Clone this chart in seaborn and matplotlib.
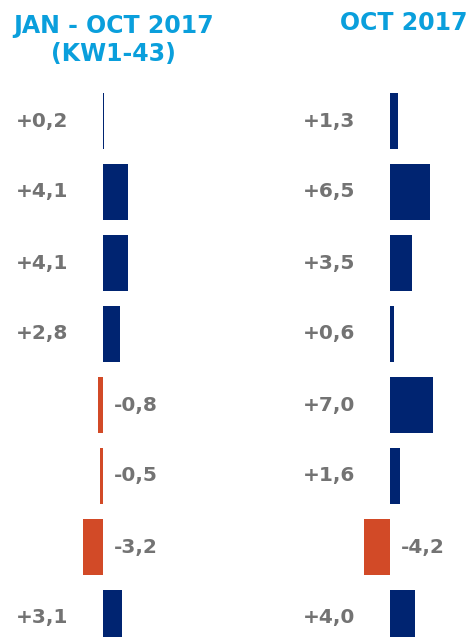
import numpy as np
import pandas as pd
import matplotlib.pyplot as plt
import seaborn as sns

# values
jan_oct = [0.2, 4.1, 4.1, 2.8, -0.8, -0.5, -3.2, 3.1]
oct_only = [1.3, 6.5, 3.5, 0.6, 7.0, 1.6, -4.2, 4.0]
rows = ["r{0}".format(i) for i in range(len(jan_oct))]

titles = ["JAN - OCT 2017\n(KW1-43)", "OCT 2017"]

navy = "#002471"
red = "#d24a27"
grey = "#737373"
blue = "#0a9fdc"

sns.set_theme(style="white")
plt.rcParams['font.family'] = ['DejaVu Sans']

fig = plt.figure(figsize=(4.70, 6.37), dpi=100)
ax1 = fig.add_axes([0.0, 0.0, 0.5, 1.0])
ax2 = fig.add_axes([0.5, 0.0, 0.5, 1.0])

px_per_unit = 6.2
row_px = 71.0
first_row_px = 121.0

# zero line position (in pixels from the left edge of each axes)
zeros = [103.0, 155.0]

for ax, vals, zero in [(ax1, jan_oct, zeros[0]), (ax2, oct_only, zeros[1])]:
    df = pd.DataFrame({"row": rows, "val": vals})
    pal = {r: (navy if v >= 0 else red) for r, v in zip(rows, vals)}
    sns.barplot(data=df, x="val", y="row", hue="row", palette=pal, orient="h",
                width=0.775, legend=False, ax=ax, saturation=1, linewidth=0)
    ax.set_xlim(-zero / px_per_unit, (235.0 - zero) / px_per_unit)
    ax.set_ylim((637.0 - first_row_px) / row_px, -first_row_px / row_px)
    for i, v in enumerate(vals):
        txt = "{0:+.1f}".format(v).replace(".", ",")
        if v >= 0:
            ax.annotate(txt, (0, i), xytext=(-35, 0), textcoords="offset pixels",
                        ha="right", va="center", color=grey, fontsize=14.5,
                        fontweight="bold")
        else:
            ax.annotate(txt, (0, i), xytext=(11, 0), textcoords="offset pixels",
                        ha="left", va="center", color=grey, fontsize=14.5,
                        fontweight="bold")
    ax.set_axis_off()

fig.text(113.5 / 470, 1 - 40 / 637, titles[0], ha="center", va="center",
         color=blue, fontsize=17, fontweight="bold", linespacing=1.2)
fig.text(404 / 470, 1 - 23 / 637, titles[1], ha="center", va="center",
         color=blue, fontsize=17, fontweight="bold")

fig.savefig("out.png", dpi=100)
